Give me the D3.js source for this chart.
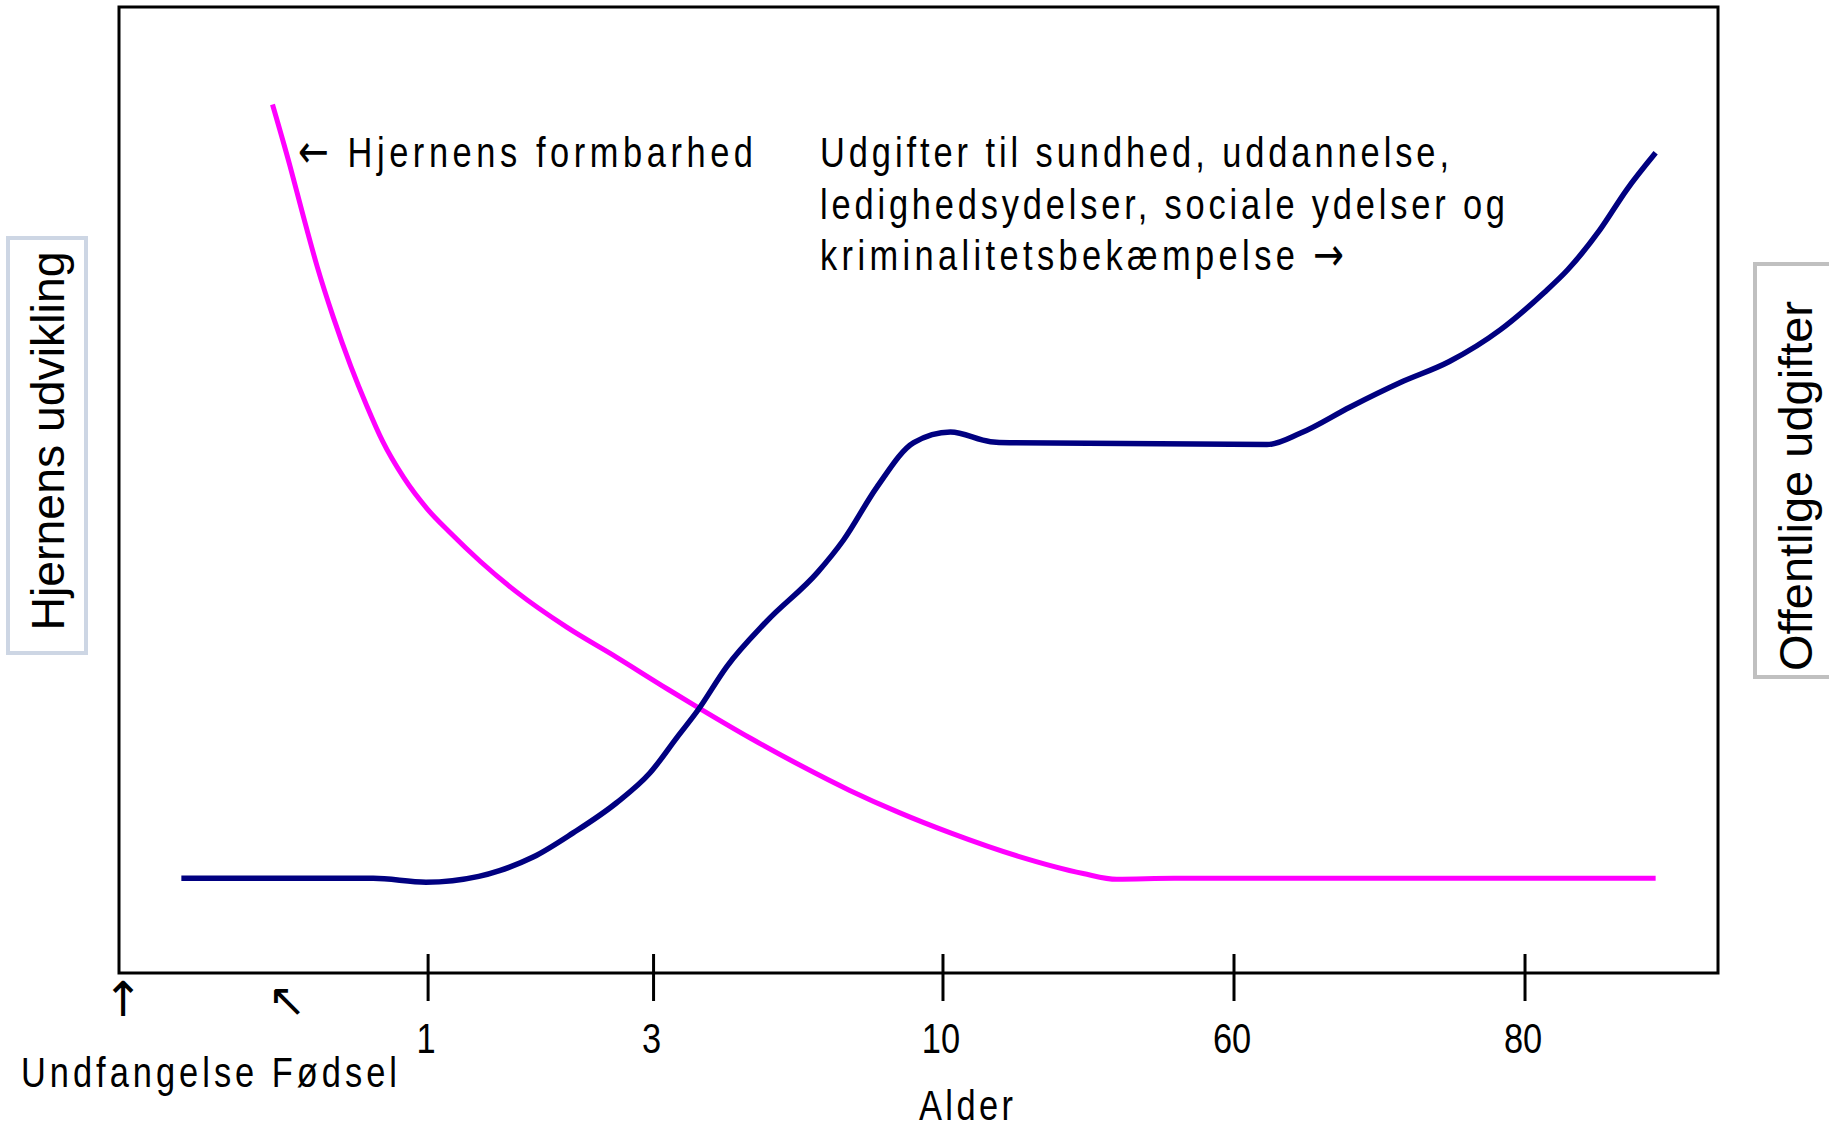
<!DOCTYPE html>
<html>
<head>
<meta charset="utf-8">
<script src="https://cdn.jsdelivr.net/npm/d3@7"></script>
<style>
    body { margin: 0; background: #ffffff; }
    svg { display: block; }
</style>
</head>
<body>
<svg id="chart" width="1829" height="1129"></svg>
<script>
// age ticks along the life-course axis (position in axis units 0-100)
const ageTickPos = [19.3, 33.4, 51.5, 69.7, 87.9];
const ageTickLabels = ["1", "3", "10", "60", "80"];

// brain plasticity (magenta)
const brainX = [9.6, 10.7, 11.5, 12.4, 13.4, 14.5, 15.5, 16.5, 17.8, 19.3, 20.7, 22.6,
    24.9, 28.0, 31.1, 34.3, 36.3, 39.5, 42.6, 45.7, 48.8, 52.0, 56.2, 60.3, 62.4, 66.0, 96.1];
const brainY = [89.9, 83.5, 78.5, 73.1, 67.9, 62.8, 58.7, 55.0, 51.3, 48.0, 45.6, 42.6,
    39.4, 35.8, 32.7, 29.4, 27.4, 24.3, 21.5, 18.9, 16.6, 14.5, 12.1, 10.3, 9.7, 9.8, 9.8];

// public expenses (navy)
const costX = [3.9, 15.9, 19.2, 22.5, 23.8, 25.9, 28.4, 31.1, 33.2, 34.9, 36.2, 38.0,
    40.5, 43.7, 45.3, 47.4, 49.7, 52.0, 54.5, 55.7, 71.8, 73.9, 77.0, 80.1, 83.2, 86.4,
    89.1, 90.6, 92.6, 94.3, 96.1];
const costY = [9.8, 9.8, 9.4, 10.0, 10.6, 12.0, 14.5, 17.6, 20.7, 24.4, 27.2, 31.7,
    36.4, 41.5, 44.8, 50.3, 54.9, 56.0, 55.0, 54.9, 54.7, 55.9, 58.6, 61.1, 63.3, 66.6,
    70.4, 72.8, 76.9, 81.1, 84.9];

const svg = d3.select("#chart");
const fontText = "'Liberation Sans', Arial, sans-serif";
const fontArrow = "'DejaVu Sans', sans-serif";
const squeeze = 0.8;

// plot frame
const plotLeft = 119, plotRight = 1718, plotTop = 7, plotBottom = 973;

const x = d3.scaleLinear().domain([0, 100]).range([plotLeft, plotRight]);
const y = d3.scaleLinear().domain([0, 100]).range([plotBottom, plotTop]);

// side label boxes
svg.append("rect")
    .attr("x", 8).attr("y", 238).attr("width", 78).attr("height", 415)
    .attr("fill", "#ffffff").attr("stroke", "#cdd6e4").attr("stroke-width", 4);
svg.append("text")
    .attr("transform", "translate(64,441)rotate(-90)")
    .attr("text-anchor", "middle")
    .attr("textLength", 379).attr("lengthAdjust", "spacingAndGlyphs")
    .style("font-family", fontText).style("font-size", "46px")
    .text("Hjernens udvikling");

svg.append("rect")
    .attr("x", 1755).attr("y", 264).attr("width", 90).attr("height", 413)
    .attr("fill", "#ffffff").attr("stroke", "#c0c0c0").attr("stroke-width", 4);
svg.append("text")
    .attr("transform", "translate(1812,486)rotate(-90)")
    .attr("text-anchor", "middle")
    .attr("textLength", 370).attr("lengthAdjust", "spacingAndGlyphs")
    .style("font-family", fontText).style("font-size", "46px")
    .text("Offentlige udgifter");

// frame
svg.append("rect")
    .attr("x", plotLeft).attr("y", plotTop)
    .attr("width", plotRight - plotLeft).attr("height", plotBottom - plotTop)
    .attr("fill", "none").attr("stroke", "#000").attr("stroke-width", 3);

// x axis ticks crossing the frame bottom
const axis = svg.append("g")
    .attr("transform", "translate(0," + (plotBottom - 19) + ")")
    .call(d3.axisBottom(x)
        .tickValues(ageTickPos)
        .tickFormat((d, i) => ageTickLabels[i])
        .tickSize(47)
        .tickPadding(0));
axis.select(".domain").remove();
axis.selectAll(".tick line").attr("stroke", "#000").attr("stroke-width", 3);
axis.selectAll(".tick text")
    .attr("y", null).attr("dy", null).attr("x", null)
    .attr("transform", "translate(-2,99)scale(" + squeeze + ",1)")
    .attr("fill", "#000")
    .style("font-family", fontText).style("font-size", "43px");

// curves
const line = d3.line()
    .x((d) => x(d[0]))
    .y((d) => y(d[1]))
    .curve(d3.curveMonotoneX);

svg.append("path")
    .datum(brainX.map((v, i) => [v, brainY[i]]))
    .attr("d", line)
    .style("fill", "none").style("stroke", "#ff00ff").style("stroke-width", 5);

svg.append("path")
    .datum(costX.map((v, i) => [v, costY[i]]))
    .attr("d", line)
    .style("fill", "none").style("stroke", "#000080").style("stroke-width", 5.5);

// annotations: narrow, spaced-out lettering
function label(tx, ty, str, len) {
    const t = svg.append("text")
        .attr("transform", "translate(" + tx + "," + ty + ")scale(" + squeeze + ",1)")
        .style("font-family", fontText).style("font-size", "43px");
    // arrows get a font that draws them full size
    str.split(/([\u2190\u2192])/).forEach((part) => {
        if (!part) return;
        const span = t.append("tspan").text(part);
        if (/[\u2190\u2192]/.test(part)) {
            span.style("font-family", fontArrow).style("font-size", "46px");
        }
    });
    if (len) t.attr("textLength", len / squeeze).attr("lengthAdjust", "spacing");
    return t;
}

label(298, 167, "\u2190 Hjernens formbarhed", 455);
label(820, 167, "Udgifter til sundhed, uddannelse,", 629);
label(820, 219, "ledighedsydelser, sociale ydelser og", 685);
label(820, 270, "kriminalitetsbek\u00e6mpelse \u2192", 524);

// below the axis
svg.append("text")
    .attr("x", 123).attr("y", 1016).attr("text-anchor", "middle")
    .style("font-family", fontArrow).style("font-size", "48px")
    .text("\u2191");
svg.append("text")
    .attr("x", 287).attr("y", 1016).attr("text-anchor", "middle")
    .style("font-family", fontArrow).style("font-size", "46px")
    .text("\u2196");
label(21, 1087, "Undfangelse F\u00f8dsel", 376);
label(919, 1120, "Alder", 94);
</script>
</body>
</html>
